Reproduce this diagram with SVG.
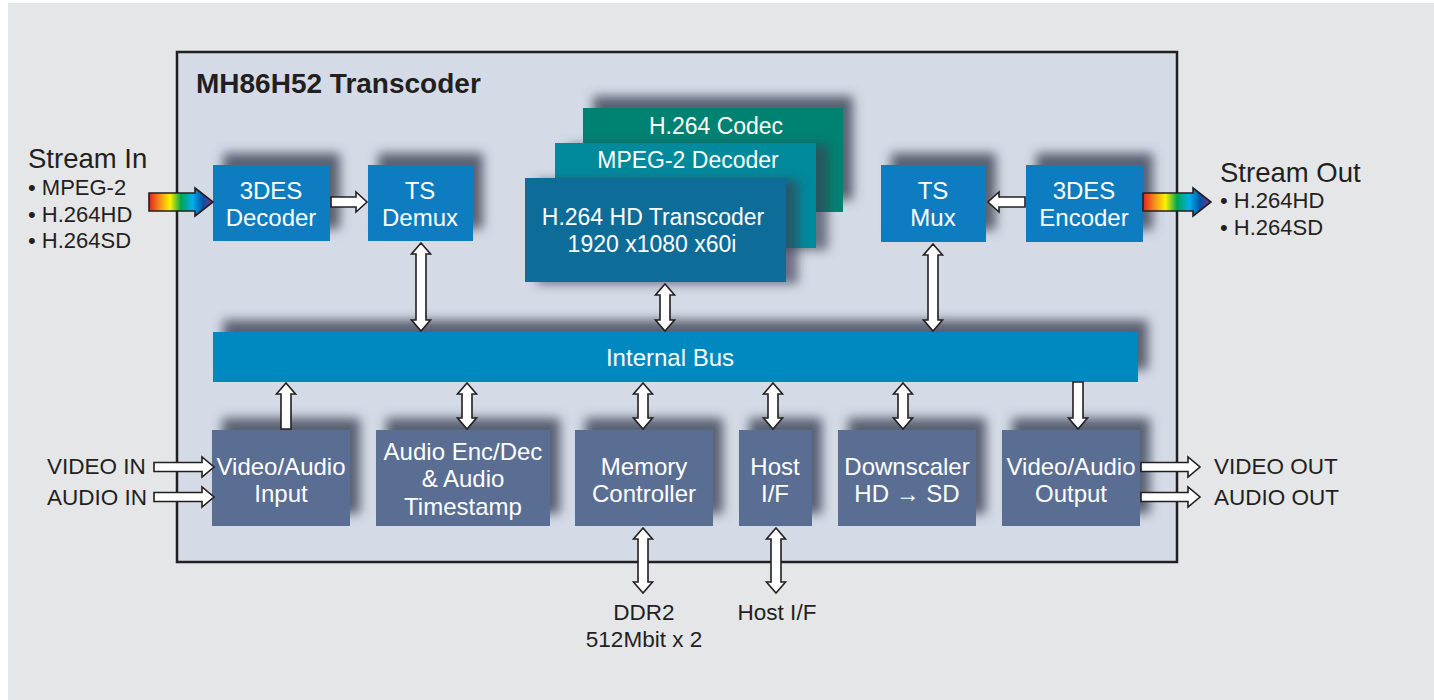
<svg xmlns="http://www.w3.org/2000/svg" width="1434" height="700" viewBox="0 0 1434 700">
<defs>
<style>
text{font-family:"Liberation Sans",Arial,sans-serif;}
.bt{fill:#fff;font-size:24px;text-anchor:middle;}
.ct{fill:#fff;font-size:23px;text-anchor:middle;}
.lbl{fill:#231f20;font-size:22.5px;}
.bul{fill:#231f20;font-size:22px;}
.big{fill:#231f20;font-size:27.5px;}
.ar{fill:#fff;stroke:#231f20;stroke-width:1.6;stroke-linejoin:miter;}
.rb{stroke:#231f20;stroke-width:1.6;}
.top{fill:#0a7bc1;}
.bot{fill:#5a6e94;}
</style>
<filter id="sh" x="-30%" y="-50%" width="160%" height="200%">
<feGaussianBlur in="SourceAlpha" stdDeviation="5.5"/>
<feOffset dx="10" dy="-12" result="b"/>
<feFlood flood-color="#3a4255" flood-opacity="0.8"/>
<feComposite in2="b" operator="in"/>
<feMerge><feMergeNode/><feMergeNode in="SourceGraphic"/></feMerge>
</filter>
<filter id="sh2" x="-30%" y="-50%" width="160%" height="200%">
<feGaussianBlur in="SourceAlpha" stdDeviation="5.5"/>
<feOffset dx="12" dy="2" result="b"/>
<feFlood flood-color="#3a4255" flood-opacity="0.7"/>
<feComposite in2="b" operator="in"/>
<feMerge><feMergeNode/><feMergeNode in="SourceGraphic"/></feMerge>
</filter>
<linearGradient id="rain" x1="0" y1="0" x2="1" y2="0">
<stop offset="0" stop-color="#e2231a"/>
<stop offset="0.18" stop-color="#f7941d"/>
<stop offset="0.33" stop-color="#fff200"/>
<stop offset="0.5" stop-color="#00a651"/>
<stop offset="0.68" stop-color="#00aeef"/>
<stop offset="0.84" stop-color="#0054a6"/>
<stop offset="1" stop-color="#92278f"/>
</linearGradient>
</defs>
<rect x="0" y="0" width="1434" height="700" fill="#ffffff"/>
<rect x="8" y="3" width="1426" height="697" fill="#e5e6e8"/>

<g id="chip">
<rect x="177" y="52" width="1000" height="510" fill="#d5dbe6" stroke="#231f20" stroke-width="2.5"/>
<text x="196" y="93" style="font-weight:bold;font-size:28px;fill:#231f20">MH86H52 Transcoder</text>
</g>

<g id="stream-in">
<text class="big" x="28" y="168">Stream In</text>
<text class="bul" x="28" y="195">• MPEG-2</text>
<text class="bul" x="28" y="222">• H.264HD</text>
<text class="bul" x="28" y="248">• H.264SD</text>
</g>
<g id="stream-out">
<text class="big" x="1220" y="182">Stream Out</text>
<text class="bul" x="1220" y="208">• H.264HD</text>
<text class="bul" x="1220" y="235">• H.264SD</text>
</g>

<g id="h264-codec"><rect x="583" y="108" width="260" height="104" fill="#008272" filter="url(#sh)"/><text class="ct" x="716" y="134">H.264 Codec</text></g>
<g id="mpeg2-decoder"><rect x="555" y="143" width="261" height="105" fill="#008a9c" filter="url(#sh2)"/><text class="ct" x="688" y="168">MPEG-2 Decoder</text></g>
<g id="h264-transcoder"><rect x="525" y="178" width="261" height="104" fill="#0d6d98" filter="url(#sh2)"/><text class="ct" x="653" y="225">H.264 HD Transcoder</text><text class="ct" x="652" y="252">1920 x1080 x60i</text></g>

<g id="des-decoder"><rect class="top" x="213" y="165" width="117" height="76" filter="url(#sh)"/><text class="bt" x="271" y="199">3DES</text><text class="bt" x="271" y="226">Decoder</text></g>
<g id="ts-demux"><rect class="top" x="368" y="165" width="105" height="76" filter="url(#sh)"/><text class="bt" x="420" y="199">TS</text><text class="bt" x="420" y="226">Demux</text></g>
<g id="ts-mux"><rect class="top" x="881" y="165" width="105" height="77" filter="url(#sh)"/><text class="bt" x="933" y="199">TS</text><text class="bt" x="933" y="226">Mux</text></g>
<g id="des-encoder"><rect class="top" x="1026" y="165" width="117" height="77" filter="url(#sh)"/><text class="bt" x="1084" y="199">3DES</text><text class="bt" x="1084" y="226">Encoder</text></g>

<g id="internal-bus"><rect x="213" y="332" width="925" height="50" fill="#0088c0" filter="url(#sh)"/><text class="bt" x="670" y="366">Internal Bus</text></g>

<g id="va-input"><rect class="bot" x="212" y="430" width="138" height="96" filter="url(#sh)"/><text class="bt" x="281" y="475">Video/Audio</text><text class="bt" x="281" y="502">Input</text></g>
<g id="audio-enc"><rect class="bot" x="376" y="430" width="174" height="96" filter="url(#sh)"/><text class="bt" x="463" y="460">Audio Enc/Dec</text><text class="bt" x="463" y="487">&amp; Audio</text><text class="bt" x="463" y="515">Timestamp</text></g>
<g id="memory-controller"><rect class="bot" x="575" y="430" width="138" height="96" filter="url(#sh)"/><text class="bt" x="644" y="475">Memory</text><text class="bt" x="644" y="502">Controller</text></g>
<g id="host-if"><rect class="bot" x="739" y="430" width="73" height="96" filter="url(#sh)"/><text class="bt" x="775" y="475">Host</text><text class="bt" x="775" y="502">I/F</text></g>
<g id="downscaler"><rect class="bot" x="838" y="430" width="138" height="96" filter="url(#sh)"/><text class="bt" x="907" y="475">Downscaler</text><text class="bt" x="907" y="502">HD → SD</text></g>
<g id="va-output"><rect class="bot" x="1002" y="430" width="138" height="96" filter="url(#sh)"/><text class="bt" x="1071" y="475">Video/Audio</text><text class="bt" x="1071" y="502">Output</text></g>

<g id="io-labels">
<text class="lbl" x="47" y="474">VIDEO IN</text>
<text class="lbl" x="47" y="505">AUDIO IN</text>
<text class="lbl" x="1214" y="474">VIDEO OUT</text>
<text class="lbl" x="1214" y="505">AUDIO OUT</text>
<text class="lbl" x="644" y="620" text-anchor="middle">DDR2</text>
<text class="lbl" x="644" y="647" text-anchor="middle">512Mbit x 2</text>
<text class="lbl" x="777" y="620" text-anchor="middle">Host I/F</text>
</g>

<g id="connectors">
<path class="rb" fill="url(#rain)" d="M149,193 H195 V188 L213,202 L195,216 V211 H149 Z"/>
<path class="rb" fill="url(#rain)" d="M1143,193 H1193 V188 L1211,202 L1193,216 V211 H1143 Z"/>
<path class="ar" d="M331,197 H356 V192 L367,202 L356,212 V207 H331 Z"/>
<path class="ar" d="M1025,197 H999 V192 L988,202 L999,212 V207 H1025 Z"/>
<path class="ar" d="M154,462.5 H202 V457 L214,467 L202,477 V471.5 H154 Z"/>
<path class="ar" d="M154,492.5 H202 V487 L214,497 L202,507 V501.5 H154 Z"/>
<path class="ar" d="M1141,462.5 H1188 V457 L1200,467 L1188,477 V471.5 H1141 Z"/>
<path class="ar" d="M1141,492.5 H1188 V487 L1200,497 L1188,507 V501.5 H1141 Z"/>
<path class="ar" d="M421,243 L430.5,254 H426 V320 H430.5 L421,331 L411.5,320 H416 V254 H411.5 Z"/>
<path class="ar" d="M665,284 L674.5,295 H670 V320 H674.5 L665,331 L655.5,320 H660 V295 H655.5 Z"/>
<path class="ar" d="M933,244 L942.5,255 H938 V320 H942.5 L933,331 L923.5,320 H928 V255 H923.5 Z"/>
<path class="ar" d="M286,383 L295.5,394 H291 V429 H281 V394 H276.5 Z"/>
<path class="ar" d="M467,383 L476.5,394 H472 V418 H476.5 L467,429 L457.5,418 H462 V394 H457.5 Z"/>
<path class="ar" d="M643,383 L652.5,394 H648 V418 H652.5 L643,429 L633.5,418 H638 V394 H633.5 Z"/>
<path class="ar" d="M773,383 L782.5,394 H778 V418 H782.5 L773,429 L763.5,418 H768 V394 H763.5 Z"/>
<path class="ar" d="M903,383 L912.5,394 H908 V418 H912.5 L903,429 L893.5,418 H898 V394 H893.5 Z"/>
<path class="ar" d="M1073,382 H1083 V418 H1087.5 L1078,429 L1068.5,418 H1073 Z"/>
<path class="ar" d="M643,528 L652.5,539 H648 V582 H652.5 L643,593 L633.5,582 H638 V539 H633.5 Z"/>
<path class="ar" d="M776,528 L785.5,539 H781 V582 H785.5 L776,593 L766.5,582 H771 V539 H766.5 Z"/>
</g>
</svg>
